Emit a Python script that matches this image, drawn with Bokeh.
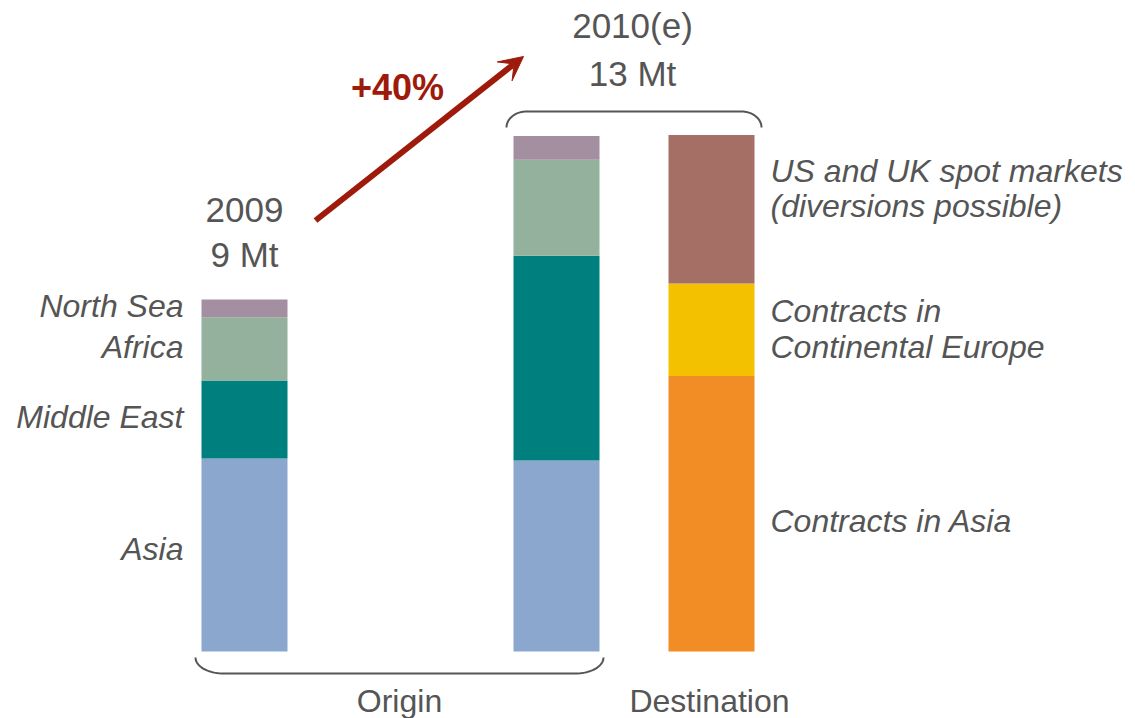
import numpy as np
from bokeh.plotting import figure
from bokeh.models import Range1d, Arrow, VeeHead, ColumnDataSource
from bokeh.core.properties import value
from bokeh.embed import file_html
from bokeh.resources import INLINE

# ---------------- data (Mt) ----------------
origin_categories = ["Asia", "Middle East", "Africa", "North Sea"]
origin_colors = ["#8BA7CD", "#007F7F", "#94B19D", "#A38FA0"]
origin_2009 = [4.86, 1.97, 1.59, 0.45]
origin_2010 = [4.81, 5.16, 2.42, 0.60]

dest_categories = ["Contracts in Asia", "Contracts in Continental Europe", "US and UK spot markets"]
dest_colors = ["#F28C24", "#F4C100", "#A66F66"]
dest_2010 = [6.94, 2.33, 3.74]

title_2009 = ["2009", "9 Mt"]
title_2010 = ["2010(e)", "13 Mt"]
growth_label = "+40%"
group_labels = ["Origin", "Destination"]

# ---------------- layout ----------------
W, H = 1135, 718
PX_PER_MT = 516 / 13.0
Y0 = 651  # pixel row of 0 Mt
bar_x = [244, 556, 711]
bar_w = 86
FONT = value("Liberation Sans")
GREY = "#555555"
RED = "#9E1B0B"

p = figure(width=W, height=H, output_backend="svg", toolbar_location=None,
           x_range=Range1d(0, W),
           y_range=Range1d(-(H - Y0) / PX_PER_MT, Y0 / PX_PER_MT),
           min_border=0, outline_line_color=None, tools="")
p.extra_y_ranges = {"px": Range1d(H, 0)}
p.xaxis.visible = False
p.yaxis.visible = False
p.grid.visible = False
p.background_fill_color = "white"
p.border_fill_color = "white"


def stack(x, vals, colors):
    tops = np.cumsum(vals)
    bottoms = tops - np.array(vals)
    src = ColumnDataSource(dict(x=[x] * len(vals), bottom=bottoms, top=tops, color=colors))
    p.vbar(x="x", width=bar_w, bottom="bottom", top="top", fill_color="color",
           line_color=None, source=src)


stack(bar_x[0], origin_2009, origin_colors)
stack(bar_x[1], origin_2010, origin_colors)
stack(bar_x[2], dest_2010, dest_colors)


def label(x, y, t, size="32px", align="left", style="italic", color=GREY):
    p.text(x=[x], y=[y], text=[t], text_font=FONT, text_font_size=size,
           text_font_style=style, text_color=color, text_align=align,
           text_baseline="middle", y_range_name="px")


# left labels (origin)
left_y = {"North Sea": 305, "Africa": 346, "Middle East": 416, "Asia": 548}
for c in ["North Sea", "Africa", "Middle East", "Asia"]:
    label(183, left_y[c], c, align="right")

# right labels (destination)
label(770, 170, "US and UK spot markets")
label(770, 205, "(diversions possible)")
label(770, 310, "Contracts in")
label(770, 346, "Continental Europe")
label(770, 520, "Contracts in Asia")

# titles
label(244, 209, title_2009[0], size="35px", align="center", style="normal")
label(244, 254, title_2009[1], size="35px", align="center", style="normal")
label(632, 25, title_2010[0], size="35px", align="center", style="normal")
label(632, 73, title_2010[1], size="35px", align="center", style="normal")
label(397, 87, growth_label, size="36px", align="center", style="bold", color=RED)

# group labels
label(399, 700, group_labels[0], align="center", style="normal")
label(709, 700, group_labels[1], align="center", style="normal")


# braces
def brace(x0, x1, y_end, y_line, r):
    ry = y_line - y_end
    t1 = np.linspace(np.pi, np.pi / 2, 20)
    t2 = np.linspace(np.pi / 2, 0, 20)
    xs = list((x0 + r) + r * np.cos(t1)) + list((x1 - r) + r * np.cos(t2))
    ys = list(y_end + ry * np.sin(t1)) + list(y_end + ry * np.sin(t2))
    p.line(xs, ys, line_color=GREY, line_width=2, y_range_name="px")


brace(bar_x[0] - bar_w / 2 - 6, bar_x[1] + bar_w / 2 + 4, 657, 673, 28)
brace(bar_x[1] - bar_w / 2 - 7, bar_x[2] + bar_w / 2 + 7, 127, 111, 20)

# growth arrow
p.add_layout(Arrow(end=VeeHead(size=24, fill_color=RED, line_color=RED),
                   x_start=315, y_start=220, x_end=523, y_end=56,
                   line_color=RED, line_width=6, y_range_name="px"))

open("out.html", "w").write(file_html(p, INLINE))
